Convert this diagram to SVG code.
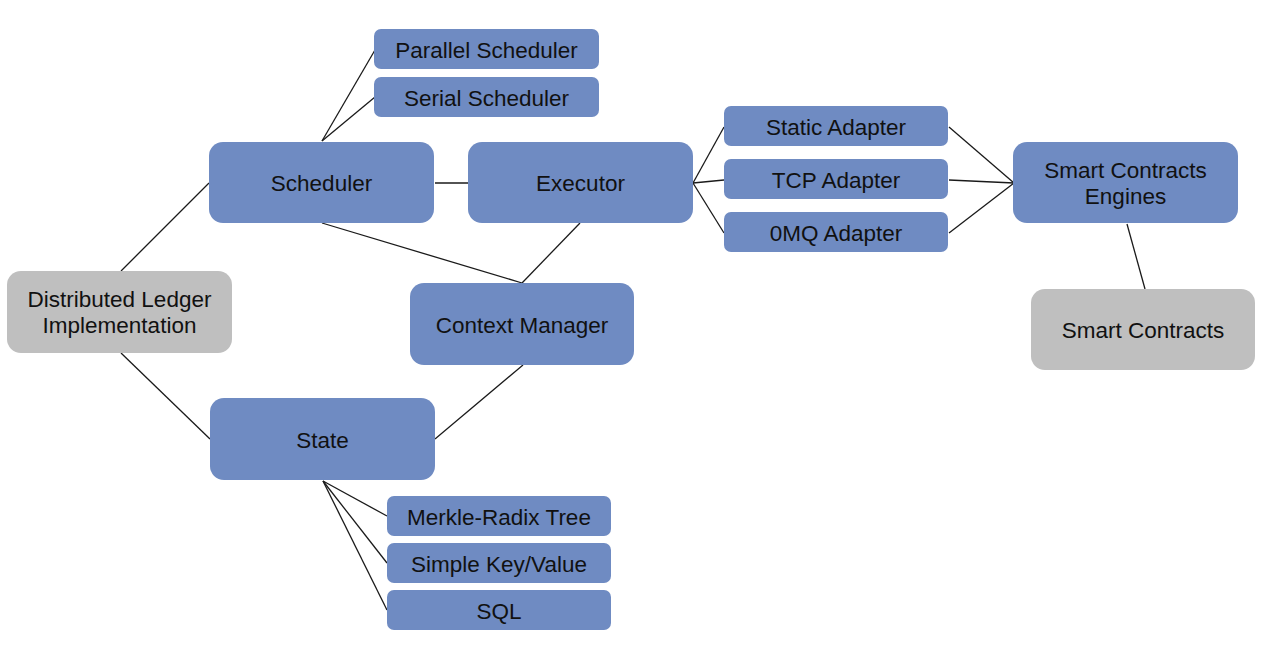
<svg xmlns="http://www.w3.org/2000/svg" width="1266" height="668" viewBox="0 0 1266 668">
<style>
.b{fill:#6f8bc2}
.g{fill:#bfbfbf}
text{font-family:"Liberation Sans",Arial,sans-serif;font-size:22.5px;fill:#111;text-anchor:middle}
.c line{stroke:#1a1a1a;stroke-width:1.3;fill:none}
</style>
<rect width="1266" height="668" fill="#fff"/>
<g class="c" id="connectors">
<line x1="322" y1="141" x2="375" y2="50"/>
<line x1="322" y1="141" x2="375" y2="97"/>
<line x1="435" y1="183" x2="468" y2="183"/>
<line x1="121" y1="271" x2="209" y2="183"/>
<line x1="121" y1="353" x2="210" y2="439"/>
<line x1="322" y1="223" x2="522" y2="283"/>
<line x1="580" y1="223" x2="522" y2="283"/>
<line x1="523" y1="365" x2="435" y2="439"/>
<line x1="693" y1="183" x2="724" y2="127"/>
<line x1="693" y1="183" x2="724" y2="180"/>
<line x1="693" y1="183" x2="724" y2="233"/>
<line x1="949" y1="127" x2="1014" y2="183"/>
<line x1="949" y1="180" x2="1014" y2="183"/>
<line x1="949" y1="233" x2="1014" y2="183"/>
<line x1="1127" y1="224" x2="1145" y2="289"/>
<line x1="323" y1="481" x2="387" y2="516"/>
<line x1="323" y1="481" x2="387" y2="563"/>
<line x1="323" y1="481" x2="387" y2="610"/>
</g>
<g id="parallel-scheduler"><rect class="b" x="374" y="29" width="225" height="40" rx="7"/><text x="486.5" y="57.5">Parallel Scheduler</text></g>
<g id="serial-scheduler"><rect class="b" x="374" y="77" width="225" height="40" rx="7"/><text x="486.5" y="105.5">Serial Scheduler</text></g>
<g id="scheduler"><rect class="b" x="209" y="142" width="225" height="81" rx="14"/><text x="321.5" y="190.5">Scheduler</text></g>
<g id="executor"><rect class="b" x="468" y="142" width="225" height="81" rx="14"/><text x="580.5" y="190.5">Executor</text></g>
<g id="static-adapter"><rect class="b" x="724" y="106" width="224" height="40" rx="7"/><text x="836" y="134.5">Static Adapter</text></g>
<g id="tcp-adapter"><rect class="b" x="724" y="159" width="224" height="40" rx="7"/><text x="836" y="187.5">TCP Adapter</text></g>
<g id="zmq-adapter"><rect class="b" x="724" y="212" width="224" height="40" rx="7"/><text x="836" y="240.5">0MQ Adapter</text></g>
<g id="smart-contracts-engines"><rect class="b" x="1013" y="142" width="225" height="81" rx="14"/><text x="1125.5" y="177.5">Smart Contracts</text><text x="1125.5" y="203.5">Engines</text></g>
<g id="smart-contracts"><rect class="g" x="1031" y="289" width="224" height="81" rx="14"/><text x="1143" y="338">Smart Contracts</text></g>
<g id="distributed-ledger"><rect class="g" x="7" y="271" width="225" height="82" rx="14"/><text x="119.5" y="306.5">Distributed Ledger</text><text x="119.5" y="333">Implementation</text></g>
<g id="context-manager"><rect class="b" x="410" y="283" width="224" height="82" rx="14"/><text x="522" y="332.5">Context Manager</text></g>
<g id="state"><rect class="b" x="210" y="398" width="225" height="82" rx="14"/><text x="322.5" y="447.5">State</text></g>
<g id="merkle-radix-tree"><rect class="b" x="387" y="496" width="224" height="40" rx="7"/><text x="499" y="524.5">Merkle-Radix Tree</text></g>
<g id="simple-key-value"><rect class="b" x="387" y="543" width="224" height="40" rx="7"/><text x="499" y="571.5">Simple Key/Value</text></g>
<g id="sql"><rect class="b" x="387" y="590" width="224" height="40" rx="7"/><text x="499" y="618.5">SQL</text></g>
</svg>
